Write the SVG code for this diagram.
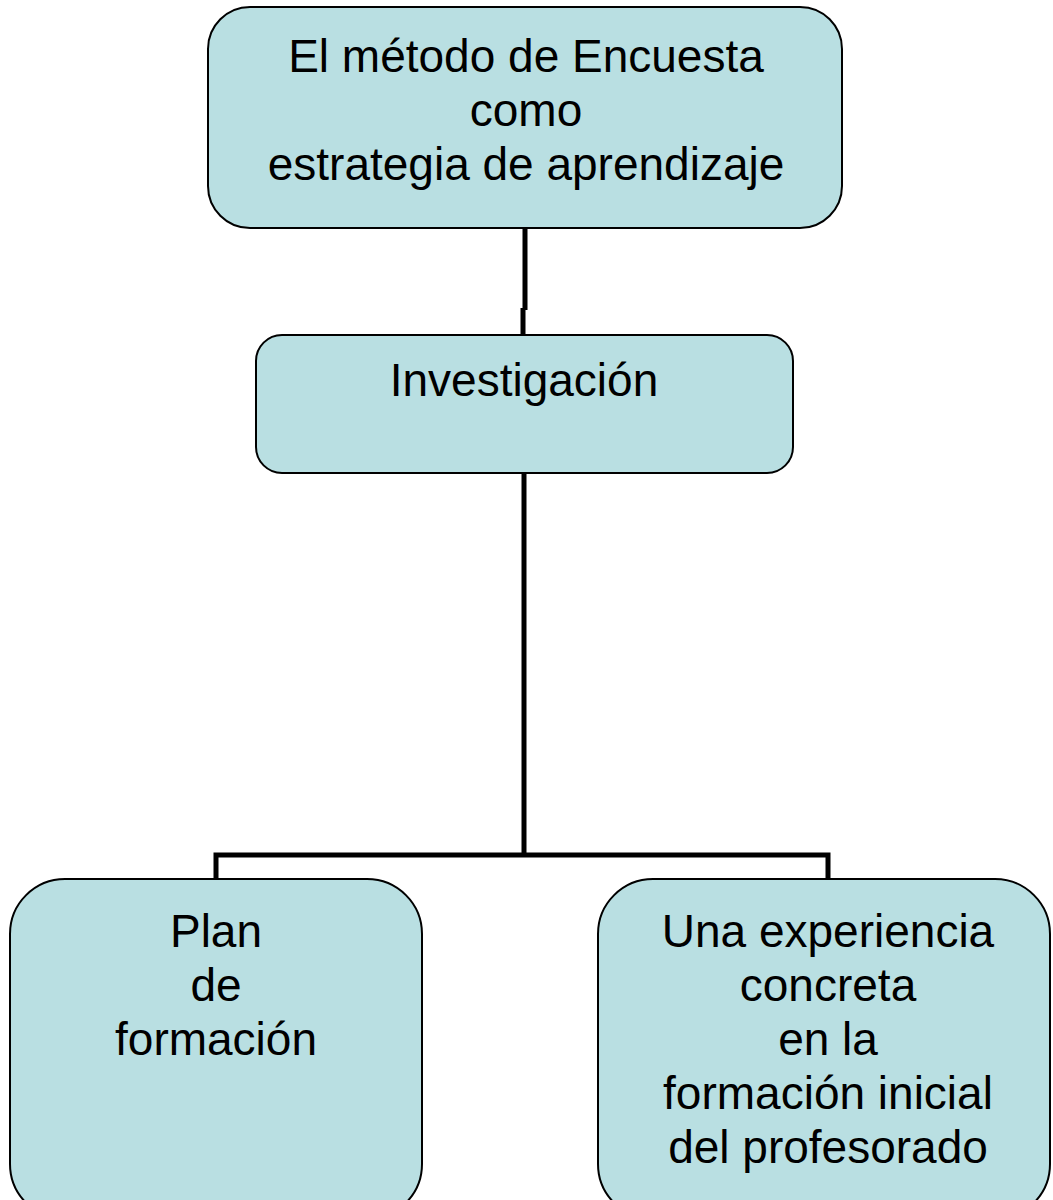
<svg xmlns="http://www.w3.org/2000/svg" width="1053" height="1200" viewBox="0 0 1053 1200">
<style>
.box{fill:#b9dfe2;stroke:#000;stroke-width:2}
.t{font-family:"Liberation Sans",Arial,sans-serif;font-size:46px;fill:#000;text-anchor:middle}
.c{fill:none;stroke:#000;stroke-width:5}
</style>
<rect width="1053" height="1200" fill="#fff"/>
<g id="connectors">
<path class="c" d="M525 228 V310 M523 308 V335"/>
<path class="c" d="M524 473 V855 M216 878 V855 H828 V878"/>
</g>
<g id="n1">
<rect class="box" x="208" y="7" width="634" height="221" rx="42"/>
<text class="t" x="526" y="72">El método de Encuesta</text>
<text class="t" x="526" y="126">como</text>
<text class="t" x="526" y="180">estrategia de aprendizaje</text>
</g>
<g id="n2">
<rect class="box" x="256" y="335" width="537" height="138" rx="26"/>
<text class="t" x="524" y="396">Investigación</text>
</g>
<g id="n3">
<rect class="box" x="10" y="879" width="412" height="340" rx="55"/>
<text class="t" x="216" y="947">Plan</text>
<text class="t" x="216" y="1001">de</text>
<text class="t" x="216" y="1055">formación</text>
</g>
<g id="n4">
<rect class="box" x="598" y="879" width="452" height="340" rx="55"/>
<text class="t" x="828" y="947">Una experiencia</text>
<text class="t" x="828" y="1001">concreta</text>
<text class="t" x="828" y="1055">en la</text>
<text class="t" x="828" y="1109">formación inicial</text>
<text class="t" x="828" y="1163">del profesorado</text>
</g>
</svg>
